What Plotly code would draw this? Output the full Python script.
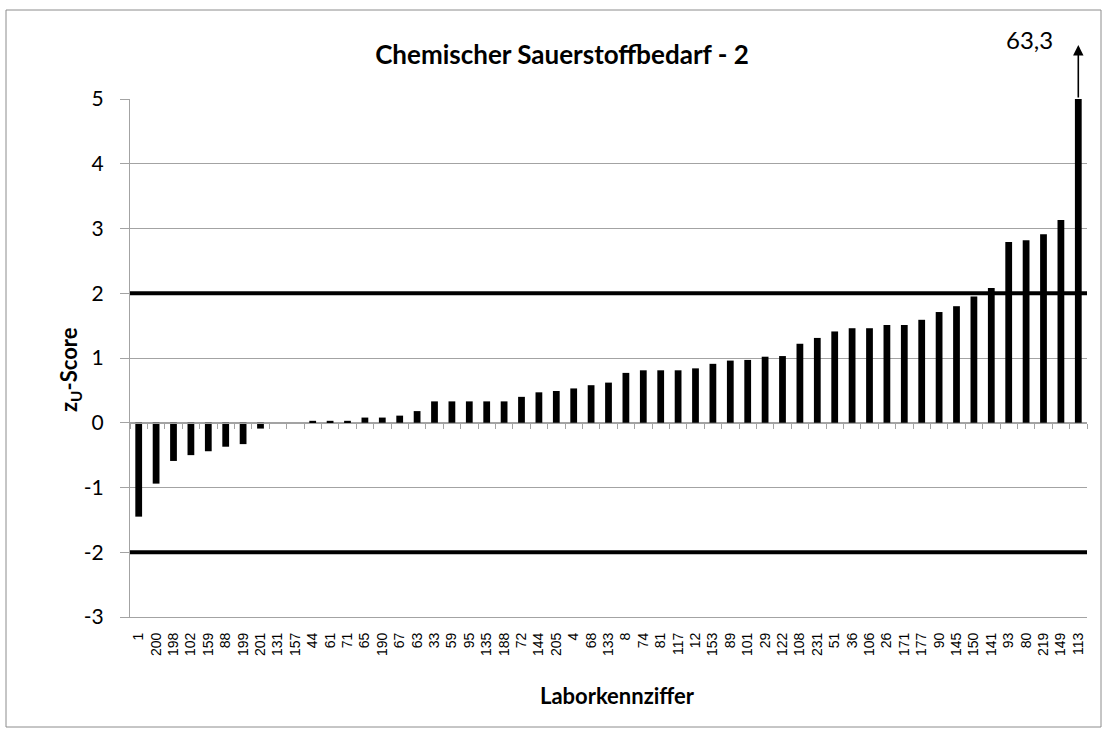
import plotly.graph_objects as go

# Laborkennziffern in Reihenfolge der Darstellung
labs = ["1", "200", "198", "102", "159", "88", "199", "201", "131", "157",
        "44", "61", "71", "65", "190", "67", "63", "33", "59", "95",
        "135", "188", "72", "144", "205", "4", "68", "133", "8", "74",
        "81", "117", "12", "153", "89", "101", "29", "122", "108", "231",
        "51", "36", "106", "26", "171", "177", "90", "145", "150", "141",
        "93", "80", "219", "149", "113"]

z_scores = [-1.45, -0.94, -0.59, -0.50, -0.44, -0.37, -0.33, -0.09, 0.0, 0.0,
            0.03, 0.03, 0.03, 0.08, 0.08, 0.11, 0.18, 0.33, 0.33, 0.33,
            0.33, 0.33, 0.40, 0.47, 0.49, 0.53, 0.58, 0.62, 0.77, 0.81,
            0.81, 0.81, 0.84, 0.91, 0.96, 0.97, 1.02, 1.03, 1.22, 1.31,
            1.41, 1.46, 1.46, 1.51, 1.51, 1.59, 1.71, 1.80, 1.95, 2.08,
            2.79, 2.82, 2.91, 3.13, 63.3]

limits = [-2, 2]
y_min, y_max = -3, 5
y_ticks = list(range(y_min, y_max + 1))

GRID = "#a3a3a3"
FONT = "Lato"  # closest to Calibri

W, H = 1108, 736
ml, mr, mt, mb = 130, 21, 99, 119
pw, ph = W - ml - mr, H - mt - mb


def px_x(px):
    return (px - ml) / pw


def px_y(py):
    return (H - mb - py) / ph


fig = go.Figure()
fig.add_trace(go.Bar(
    x=labs,
    y=z_scores,
    marker=dict(color="black", line=dict(width=0)),
    showlegend=False,
    hoverinfo="x+y",
))

# threshold lines at +/-2
for lim in limits:
    fig.add_shape(type="line", xref="paper", x0=0, x1=1, yref="y", y0=lim, y1=lim,
                  line=dict(color="black", width=4), layer="above")

# overflow marker for the last lab (bar cut at top of axis)
n = len(labs)
last_x = (n - 0.5) / n
fig.add_annotation(xref="paper", yref="paper", x=last_x, y=px_y(45),
                   ax=0, ay=54, text="", showarrow=True,
                   arrowhead=2, arrowsize=1.3, arrowwidth=1.6, arrowcolor="black")
fig.add_annotation(xref="paper", yref="paper", x=px_x(1029), y=px_y(40),
                   xanchor="center", yanchor="middle",
                   text=f"{z_scores[-1]:.1f}".replace(".", ","), showarrow=False,
                   font=dict(family=FONT, size=24, color="black"))

# outer frame
fig.add_shape(type="rect", xref="paper", yref="paper",
              x0=px_x(6), x1=px_x(1101), y0=px_y(727), y1=px_y(10),
              line=dict(color="#8c8c8c", width=1))

fig.add_annotation(xref="paper", yref="paper", x=px_x(617), y=px_y(695),
                   xanchor="center", yanchor="middle",
                   text="<b>Laborkennziffer</b>", showarrow=False,
                   font=dict(family=FONT, size=22, color="black"))
fig.add_annotation(xref="paper", yref="paper", x=px_x(70), y=px_y(370),
                   xanchor="center", yanchor="middle", textangle=-90,
                   text="<b>z<sub>U</sub>-Score</b>", showarrow=False,
                   font=dict(family=FONT, size=22, color="black"))

fig.update_layout(
    width=W, height=H,
    margin=dict(l=ml, r=mr, t=mt, b=mb),
    paper_bgcolor="white", plot_bgcolor="white",
    bargap=0.61,
    title=dict(text="<b>Chemischer Sauerstoffbedarf - 2</b>", x=562 / W,
               xref="container", xanchor="center",
               y=1 - 55 / H, yanchor="middle",
               font=dict(family=FONT, size=26, color="black")),
    xaxis=dict(
        type="category",
        showgrid=False, zeroline=False,
        showline=True, linecolor=GRID, linewidth=1.3,
        tickmode="linear", tick0=0, dtick=1,
        tickangle=-90,
        ticks="outside", ticklen=9, tickcolor="rgba(0,0,0,0)",
        tickfont=dict(family="Liberation Sans", size=14, color="black"),
    ),
    # axis line with boundary ticks crossing at zero
    xaxis2=dict(
        overlaying="x", anchor="free", position=(0 - y_min) / (y_max - y_min),
        range=[-0.5, n - 0.5], showgrid=False, zeroline=False,
        showline=True, linecolor=GRID, linewidth=1.3,
        ticks="outside", ticklen=5, tickcolor=GRID, tickwidth=1.3,
        tickmode="linear", tick0=0.5, dtick=1, showticklabels=False,
    ),
    yaxis=dict(
        range=[y_min, y_max],
        tickmode="array", tickvals=y_ticks, ticktext=[str(v) for v in y_ticks],
        showgrid=True, gridcolor=GRID, gridwidth=1.3,
        zeroline=False,
        showline=True, linecolor=GRID, linewidth=1.3,
        ticks="outside", ticklen=9, tickcolor=GRID, tickwidth=1.3,
        ticklabelstandoff=12,
        tickfont=dict(family=FONT, size=21, color="black"),
    ),
)

fig.add_trace(go.Scatter(x=[], y=[], xaxis="x2", showlegend=False))

fig.write_html("out.html", config={"displayModeBar": False},
               post_script="document.body.style.margin='0';")
